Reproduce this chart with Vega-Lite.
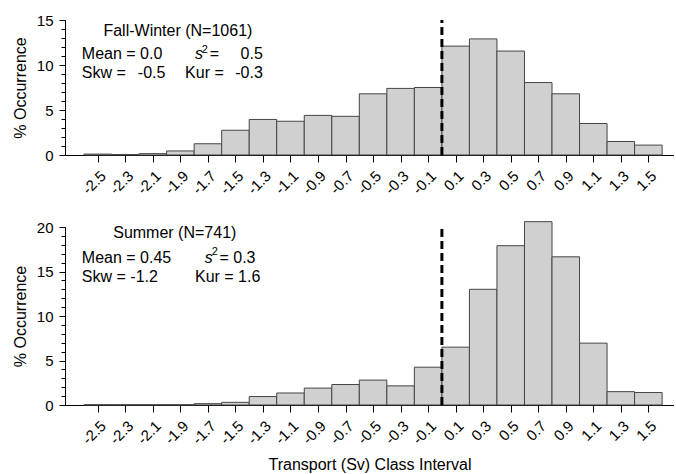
{
  "$schema": "https://vega.github.io/schema/vega-lite/v6.json",
  "background": "white",
  "padding": {"left": 12, "top": 13, "right": 0, "bottom": 0},
  "bounds": "flush",
  "spacing": 72,
  "config": {
    "view": {"stroke": null},
    "font": "Liberation Sans",
    "axis": {
      "domainColor": "black",
      "tickColor": "black",
      "labelColor": "black",
      "titleColor": "black",
      "grid": false,
      "labelFont": "Liberation Sans",
      "titleFont": "Liberation Sans",
      "titleFontWeight": "normal"
    },
    "text": {"font": "Liberation Sans", "fontSize": 16, "color": "black", "align": "left", "baseline": "alphabetic"}
  },
  "datasets": {
    "fallWinter": [
      {"from": -2.6, "to": -2.4, "pct": 0.1},
      {"from": -2.4, "to": -2.2, "pct": 0.05},
      {"from": -2.2, "to": -2.0, "pct": 0.15},
      {"from": -2.0, "to": -1.8, "pct": 0.45},
      {"from": -1.8, "to": -1.6, "pct": 1.25},
      {"from": -1.6, "to": -1.4, "pct": 2.75},
      {"from": -1.4, "to": -1.2, "pct": 3.95},
      {"from": -1.2, "to": -1.0, "pct": 3.75},
      {"from": -1.0, "to": -0.8, "pct": 4.4},
      {"from": -0.8, "to": -0.6, "pct": 4.3},
      {"from": -0.6, "to": -0.4, "pct": 6.8},
      {"from": -0.4, "to": -0.2, "pct": 7.4},
      {"from": -0.2, "to": 0.0, "pct": 7.5},
      {"from": 0.0, "to": 0.2, "pct": 12.1},
      {"from": 0.2, "to": 0.4, "pct": 12.9},
      {"from": 0.4, "to": 0.6, "pct": 11.55},
      {"from": 0.6, "to": 0.8, "pct": 8.05},
      {"from": 0.8, "to": 1.0, "pct": 6.8},
      {"from": 1.0, "to": 1.2, "pct": 3.5},
      {"from": 1.2, "to": 1.4, "pct": 1.5},
      {"from": 1.4, "to": 1.6, "pct": 1.1}
    ],
    "summer": [
      {"from": -2.6, "to": -2.4, "pct": 0.03},
      {"from": -2.4, "to": -2.2, "pct": 0.03},
      {"from": -2.2, "to": -2.0, "pct": 0.03},
      {"from": -2.0, "to": -1.8, "pct": 0.03},
      {"from": -1.8, "to": -1.6, "pct": 0.15},
      {"from": -1.6, "to": -1.4, "pct": 0.3},
      {"from": -1.4, "to": -1.2, "pct": 0.95},
      {"from": -1.2, "to": -1.0, "pct": 1.35},
      {"from": -1.0, "to": -0.8, "pct": 1.9},
      {"from": -0.8, "to": -0.6, "pct": 2.3},
      {"from": -0.6, "to": -0.4, "pct": 2.8},
      {"from": -0.4, "to": -0.2, "pct": 2.15},
      {"from": -0.2, "to": 0.0, "pct": 4.25},
      {"from": 0.0, "to": 0.2, "pct": 6.5},
      {"from": 0.2, "to": 0.4, "pct": 13.0},
      {"from": 0.4, "to": 0.6, "pct": 17.9},
      {"from": 0.6, "to": 0.8, "pct": 20.6},
      {"from": 0.8, "to": 1.0, "pct": 16.65},
      {"from": 1.0, "to": 1.2, "pct": 6.95},
      {"from": 1.2, "to": 1.4, "pct": 1.5},
      {"from": 1.4, "to": 1.6, "pct": 1.4}
    ],
    "single": [{}]
  },
  "vconcat": [
    {
      "width": 609,
      "height": 135,
      "layer": [
        {
          "data": {"name": "fallWinter"},
          "mark": {"type": "bar", "orient": "vertical", "fill": "#d0d0d0", "stroke": "#454545", "strokeWidth": 1},
          "encoding": {
            "x": {
              "field": "from", "type": "quantitative",
              "scale": {"domain": [-2.702, 1.65], "nice": false, "zero": false},
              "axis": {
                "orient": "bottom",
                "title": null,
                "values": [-2.5, -2.3, -2.1, -1.9, -1.7, -1.5, -1.3, -1.1, -0.9, -0.7, -0.5, -0.3, -0.1, 0.1, 0.3, 0.5, 0.7, 0.9, 1.1, 1.3, 1.5],
                "labelExpr": "(datum.value < 0 ? '-' : '') + format(abs(datum.value), '.1f')",
                "labelAngle": -45,
                "labelFontSize": 15,
                "tickSize": 7,
                "labelPadding": 6,
                "labelOverlap": false
              }
            },
            "x2": {"field": "to"},
            "y": {
              "field": "pct", "type": "quantitative",
              "scale": {"domain": [0, 15], "nice": false},
              "axis": {"orient": "left", "values": [0,1,2,3,4,5,6,7,8,9,10,11,12,13,14,15], "labels": false, "domain": false, "tickSize": 4, "title": null}
            },
            "y2": {"datum": 0}
          }
        },
        {
          "data": {"name": "single"},
          "mark": {"type": "rule", "stroke": "black", "strokeWidth": 3, "strokeDash": [8, 4]},
          "encoding": {
            "x": {"datum": 0, "type": "quantitative", "axis": null},
            "y": {
              "datum": 0, "type": "quantitative",
              "axis": {"orient": "left", "values": [0, 5, 10, 15], "tickSize": 6, "labelFontSize": 15, "labelPadding": 6, "title": "% Occurrence", "titleFontSize": 16, "titlePadding": 8}
            },
            "y2": {"datum": 15}
          }
        },
        {
          "data": {"name": "single"},
          "mark": {"type": "text"},
          "encoding": {"x": {"datum": -2.459, "type": "quantitative", "axis": null}, "y": {"datum": 13.22, "type": "quantitative", "axis": null}, "text": {"value": "Fall-Winter (N=1061)"}}
        },
        {
          "data": {"name": "single"},
          "mark": {"type": "text"},
          "encoding": {"x": {"datum": -2.616, "type": "quantitative", "axis": null}, "y": {"datum": 10.63, "type": "quantitative", "axis": null}, "text": {"value": "Mean = 0.0"}}
        },
        {
          "data": {"name": "single"},
          "mark": {"type": "text", "fontStyle": "italic"},
          "encoding": {"x": {"datum": -1.794, "type": "quantitative", "axis": null}, "y": {"datum": 10.63, "type": "quantitative", "axis": null}, "text": {"value": "s"}}
        },
        {
          "data": {"name": "single"},
          "mark": {"type": "text", "fontSize": 11},
          "encoding": {"x": {"datum": -1.744, "type": "quantitative", "axis": null}, "y": {"datum": 11.38, "type": "quantitative", "axis": null}, "text": {"value": "2"}}
        },
        {
          "data": {"name": "single"},
          "mark": {"type": "text"},
          "encoding": {"x": {"datum": -1.687, "type": "quantitative", "axis": null}, "y": {"datum": 10.63, "type": "quantitative", "axis": null}, "text": {"value": "="}}
        },
        {
          "data": {"name": "single"},
          "mark": {"type": "text", "align": "right"},
          "encoding": {"x": {"datum": -1.301, "type": "quantitative", "axis": null}, "y": {"datum": 10.63, "type": "quantitative", "axis": null}, "text": {"value": "0.5"}}
        },
        {
          "data": {"name": "single"},
          "mark": {"type": "text"},
          "encoding": {"x": {"datum": -2.616, "type": "quantitative", "axis": null}, "y": {"datum": 8.6, "type": "quantitative", "axis": null}, "text": {"value": "Skw ="}}
        },
        {
          "data": {"name": "single"},
          "mark": {"type": "text", "align": "right"},
          "encoding": {"x": {"datum": -2.009, "type": "quantitative", "axis": null}, "y": {"datum": 8.6, "type": "quantitative", "axis": null}, "text": {"value": "-0.5"}}
        },
        {
          "data": {"name": "single"},
          "mark": {"type": "text"},
          "encoding": {"x": {"datum": -1.866, "type": "quantitative", "axis": null}, "y": {"datum": 8.6, "type": "quantitative", "axis": null}, "text": {"value": "Kur ="}}
        },
        {
          "data": {"name": "single"},
          "mark": {"type": "text", "align": "right"},
          "encoding": {"x": {"datum": -1.301, "type": "quantitative", "axis": null}, "y": {"datum": 8.6, "type": "quantitative", "axis": null}, "text": {"value": "-0.3"}}
        }
      ],
      "resolve": {"axis": {"x": "independent", "y": "independent"}}
    },
    {
      "width": 609,
      "height": 178,
      "layer": [
        {
          "data": {"name": "summer"},
          "mark": {"type": "bar", "orient": "vertical", "fill": "#d0d0d0", "stroke": "#454545", "strokeWidth": 1},
          "encoding": {
            "x": {
              "field": "from", "type": "quantitative",
              "scale": {"domain": [-2.702, 1.65], "nice": false, "zero": false},
              "axis": {
                "orient": "bottom",
                "title": "Transport (Sv) Class Interval",
                "titleFontSize": 16,
                "titlePadding": 10,
                "values": [-2.5, -2.3, -2.1, -1.9, -1.7, -1.5, -1.3, -1.1, -0.9, -0.7, -0.5, -0.3, -0.1, 0.1, 0.3, 0.5, 0.7, 0.9, 1.1, 1.3, 1.5],
                "labelExpr": "(datum.value < 0 ? '-' : '') + format(abs(datum.value), '.1f')",
                "labelAngle": -45,
                "labelFontSize": 15,
                "tickSize": 7,
                "labelPadding": 6,
                "labelOverlap": false
              }
            },
            "x2": {"field": "to"},
            "y": {
              "field": "pct", "type": "quantitative",
              "scale": {"domain": [0, 20], "nice": false},
              "axis": {"orient": "left", "values": [0,1,2,3,4,5,6,7,8,9,10,11,12,13,14,15,16,17,18,19,20], "labels": false, "domain": false, "tickSize": 4, "title": null}
            },
            "y2": {"datum": 0}
          }
        },
        {
          "data": {"name": "single"},
          "mark": {"type": "rule", "stroke": "black", "strokeWidth": 3, "strokeDash": [8, 4]},
          "encoding": {
            "x": {"datum": 0, "type": "quantitative", "axis": null},
            "y": {
              "datum": 0, "type": "quantitative",
              "axis": {"orient": "left", "values": [0, 5, 10, 15, 20], "tickSize": 6, "labelFontSize": 15, "labelPadding": 6, "title": "% Occurrence", "titleFontSize": 16, "titlePadding": 8}
            },
            "y2": {"datum": 20}
          }
        },
        {
          "data": {"name": "single"},
          "mark": {"type": "text"},
          "encoding": {"x": {"datum": -2.388, "type": "quantitative", "axis": null}, "y": {"datum": 18.81, "type": "quantitative", "axis": null}, "text": {"value": "Summer (N=741)"}}
        },
        {
          "data": {"name": "single"},
          "mark": {"type": "text"},
          "encoding": {"x": {"datum": -2.616, "type": "quantitative", "axis": null}, "y": {"datum": 16.0, "type": "quantitative", "axis": null}, "text": {"value": "Mean = 0.45"}}
        },
        {
          "data": {"name": "single"},
          "mark": {"type": "text", "fontStyle": "italic"},
          "encoding": {"x": {"datum": -1.723, "type": "quantitative", "axis": null}, "y": {"datum": 16.0, "type": "quantitative", "axis": null}, "text": {"value": "s"}}
        },
        {
          "data": {"name": "single"},
          "mark": {"type": "text", "fontSize": 11},
          "encoding": {"x": {"datum": -1.673, "type": "quantitative", "axis": null}, "y": {"datum": 16.8, "type": "quantitative", "axis": null}, "text": {"value": "2"}}
        },
        {
          "data": {"name": "single"},
          "mark": {"type": "text"},
          "encoding": {"x": {"datum": -1.616, "type": "quantitative", "axis": null}, "y": {"datum": 16.0, "type": "quantitative", "axis": null}, "text": {"value": "= 0.3"}}
        },
        {
          "data": {"name": "single"},
          "mark": {"type": "text"},
          "encoding": {"x": {"datum": -2.616, "type": "quantitative", "axis": null}, "y": {"datum": 13.87, "type": "quantitative", "axis": null}, "text": {"value": "Skw = -1.2"}}
        },
        {
          "data": {"name": "single"},
          "mark": {"type": "text"},
          "encoding": {"x": {"datum": -1.794, "type": "quantitative", "axis": null}, "y": {"datum": 13.87, "type": "quantitative", "axis": null}, "text": {"value": "Kur = 1.6"}}
        }
      ],
      "resolve": {"axis": {"x": "independent", "y": "independent"}}
    }
  ]
}
